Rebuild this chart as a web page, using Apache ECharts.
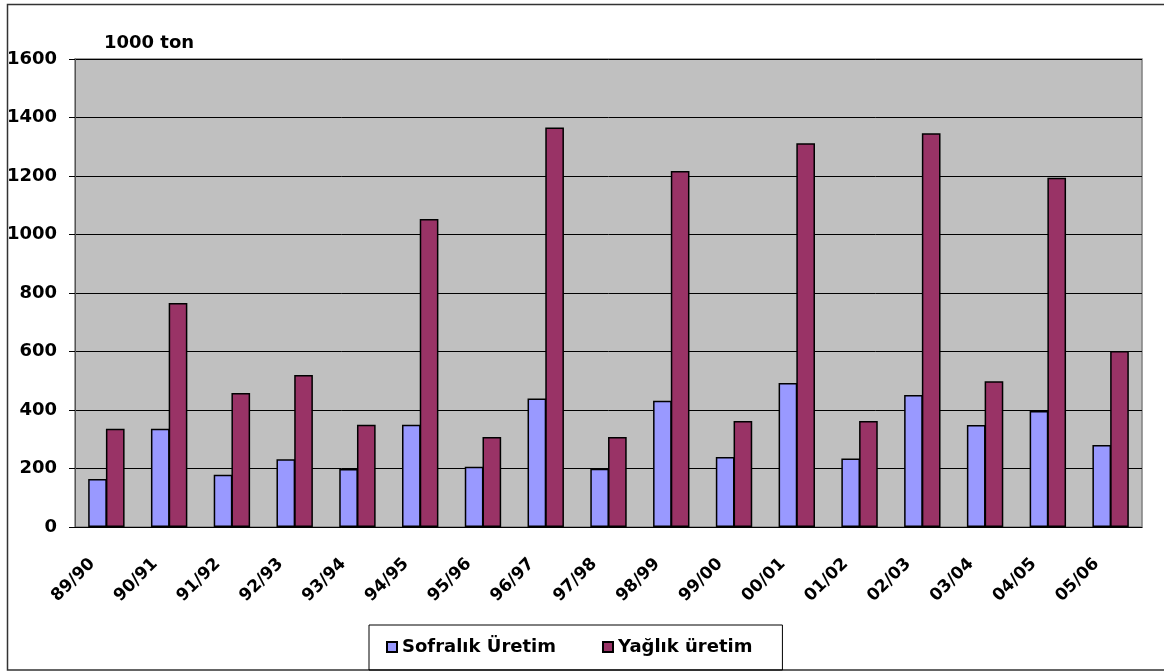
<!DOCTYPE html>
<html>
<head>
<meta charset="utf-8">
<script src="https://cdn.jsdelivr.net/npm/echarts@6/dist/echarts.min.js"></script>
<style>
  html, body { margin: 0; padding: 0; background: #fff; }
  #chart { width: 1164px; height: 671px; }
</style>
</head>
<body>
<div id="chart"></div>
<script>
// sezonlar
var seasons = ["89/90", "90/91", "91/92", "92/93", "93/94", "94/95", "95/96", "96/97", "97/98",
  "98/99", "99/00", "00/01", "01/02", "02/03", "03/04", "04/05", "05/06"];
// 1000 ton
var sofralik = [164, 336, 179, 232, 198, 350, 206, 439, 199, 432, 239, 492, 234, 451, 349, 397, 280];
var yaglik = [336, 766, 458, 520, 350, 1053, 308, 1366, 308, 1217, 362, 1312, 362, 1346, 498, 1194, 602];

var font = "DejaVu Sans";

var myChart = echarts.init(document.getElementById("chart"));
myChart.setOption({
  animation: false,
  backgroundColor: "#fff",
  textStyle: { fontFamily: font },
  graphic: [
    {
      type: "rect",
      shape: { x: 7.5, y: 4.5, width: 1170, height: 665.5 },
      style: { fill: null, stroke: "#333", lineWidth: 1.5 },
      silent: true,
    },
    {
      type: "text",
      style: {
        text: "1000 ton",
        x: 104,
        y: 43.5,
        verticalAlign: "middle",
        font: "bold 18px 'DejaVu Sans'",
        fill: "#000",
      },
    },
  ],
  grid: {
    left: 75,
    right: 22,
    top: 59,
    bottom: 144,
    show: true,
    backgroundColor: "#C0C0C0",
    borderColor: "#808080",
    borderWidth: 1.5,
  },
  legend: {
    left: 369,
    top: 625,
    orient: "horizontal",
    data: ["Sofralık Üretim", "Yağlık üretim"],
    icon: "rect",
    itemWidth: 10,
    itemHeight: 10,
    itemGap: 46,
    borderColor: "#000",
    borderWidth: 1,
    padding: [13, 30, 14, 17],
    textStyle: {
      fontFamily: font,
      fontWeight: "bold",
      fontSize: 18,
      color: "#000",
    },
  },
  xAxis: {
    type: "category",
    data: seasons,
    axisLine: { lineStyle: { color: "#000", width: 1 } },
    axisTick: { length: 4, lineStyle: { color: "#000" } },
    axisLabel: {
      interval: 0,
      rotate: 45,
      margin: 20,
      padding: [0, 20, 0, 0],
      fontFamily: font,
      fontWeight: "bold",
      fontSize: 17,
      color: "#000",
    },
  },
  yAxis: {
    type: "value",
    min: 0,
    max: 1600,
    interval: 200,
    axisLine: { show: true, lineStyle: { color: "#555", width: 1 } },
    axisTick: { show: true, length: 6, lineStyle: { color: "#000" } },
    splitLine: { lineStyle: { color: "#000", width: 1 } },
    axisLabel: {
      margin: 18,
      formatter: function (v) { return String(v); },
      fontFamily: font,
      fontWeight: "bold",
      fontSize: 18,
      color: "#000",
    },
  },
  series: [
    {
      name: "Sofralık Üretim",
      type: "bar",
      data: sofralik,
      barGap: "-5%",
      barCategoryGap: "42%",
      itemStyle: { color: "#9999FF", borderColor: "#000", borderWidth: 1.5 },
    },
    {
      name: "Yağlık üretim",
      type: "bar",
      data: yaglik,
      itemStyle: { color: "#993366", borderColor: "#000", borderWidth: 1.5 },
    },
  ],
});
</script>
</body>
</html>
